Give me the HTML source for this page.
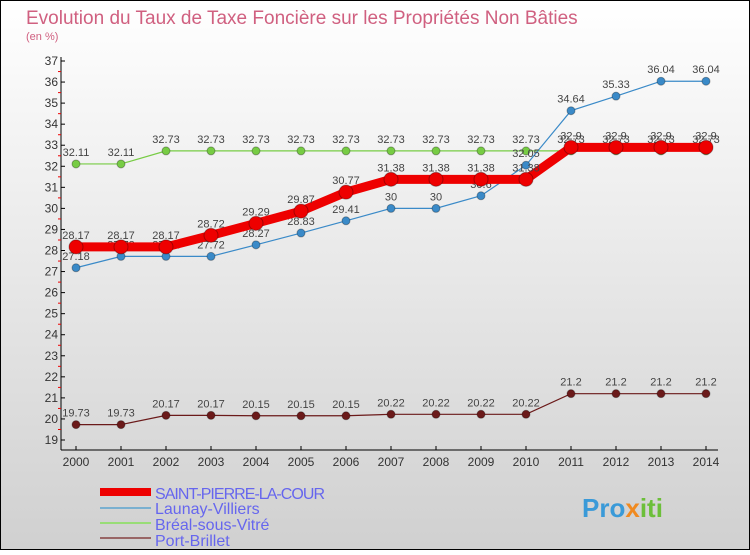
<!DOCTYPE html>
<html><head><meta charset="utf-8"><style>
body{margin:0;width:750px;height:550px;overflow:hidden;font-family:"Liberation Sans",sans-serif}
svg text{font-family:"Liberation Sans",sans-serif}
</style></head><body>
<svg id="c" width="750" height="550" xmlns="http://www.w3.org/2000/svg">
<defs><linearGradient id="bg" x1="0" y1="0" x2="0" y2="1"><stop offset="0" stop-color="#ffffff"/><stop offset="1" stop-color="#d0d0d0"/></linearGradient></defs>
<rect x="0.5" y="0.5" width="749" height="549" fill="url(#bg)" stroke="#000"/>
<text x="26" y="24" font-size="19" fill="#d06080">Evolution du Taux de Taxe Foncière sur les Propriétés Non Bâties</text>
<text x="26" y="40" font-size="11" fill="#d06080">(en %)</text>
<g id="axes"></g><g id="series"></g>
<g>
<line x1="100" y1="492" x2="151" y2="492" stroke="#e00" stroke-width="8"/>
<text x="155" y="499" font-size="16" fill="#6666ee" textLength="170">SAINT-PIERRE-LA-COUR</text>
<line x1="100" y1="508" x2="151" y2="508" stroke="#7ab0d0" stroke-width="2"/>
<text x="155" y="514" font-size="16" fill="#6666ee">Launay-Villiers</text>
<line x1="100" y1="523" x2="151" y2="523" stroke="#99dd77" stroke-width="2"/>
<text x="155" y="530" font-size="16" fill="#6666ee">Bréal-sous-Vitré</text>
<line x1="100" y1="538" x2="151" y2="538" stroke="#996666" stroke-width="2"/>
<text x="155" y="546" font-size="16" fill="#6666ee">Port-Brillet</text>
</g>
<text x="582" y="517" font-size="26" font-weight="bold" fill="#3a9ad8">Pro<tspan fill="#f08a20">x</tspan><tspan fill="#6cbf3a">iti</tspan></text>
</svg>
<script>
const years=[2000,2001,2002,2003,2004,2005,2006,2007,2008,2009,2010,2011,2012,2013,2014];
const yTicks=[19,20,21,22,23,24,25,26,27,28,29,30,31,32,33,34,35,36,37];
const saintPierre=[28.17,28.17,28.17,28.72,29.29,29.87,30.77,31.38,31.38,31.38,31.38,32.9,32.9,32.9,32.9];
const launay=[27.18,27.72,27.72,27.72,28.27,28.83,29.41,30,30,30.6,32.05,34.64,35.33,36.04,36.04];
const breal=[32.11,32.11,32.73,32.73,32.73,32.73,32.73,32.73,32.73,32.73,32.73,32.73,32.73,32.73,32.73];
const portBrillet=[19.73,19.73,20.17,20.17,20.15,20.15,20.15,20.22,20.22,20.22,20.22,21.2,21.2,21.2,21.2];
const NS="http://www.w3.org/2000/svg";
const xs=i=>76+i*45;
const ys=v=>61+(37-v)*(379/18);
function mk(t,a,p){const e=document.createElementNS(NS,t);for(const k in a)e.setAttribute(k,a[k]);p.appendChild(e);return e;}
const ax=document.getElementById('axes');
let l=mk('line',{x1:61,y1:57,x2:61,y2:450,stroke:'#000'},ax);


l=mk('line',{x1:61,y1:450,x2:718,y2:450,stroke:'#000'},ax);


yTicks.forEach(v=>{const y=ys(v);
 mk('line',{x1:61,y1:y,x2:65,y2:y,stroke:'#000'},ax);
 if(v<37)mk('line',{x1:58,y1:y-10.5,x2:61,y2:y-10.5,stroke:'#e00'},ax);
 const t=mk('text',{x:58,y:y+4,'font-size':12,'text-anchor':'end',fill:'#333'},ax);t.textContent=v;
 
 });
years.forEach((yr,i)=>{const x=xs(i);
 mk('line',{x1:x,y1:446,x2:x,y2:450,stroke:'#000'},ax);
 const t=mk('text',{x:x,y:466,'font-size':12,'text-anchor':'middle',fill:'#333'},ax);t.textContent=yr;
 
 });
const sg=document.getElementById('series');
function series(d,name,col,w,r,lab){
 const g=mk('g',{},sg);
 
 
 mk('polyline',{points:d.map((v,i)=>xs(i)+','+ys(v)).join(' '),fill:'none',stroke:col,'stroke-width':w},g);
 d.forEach((v,i)=>{const c=mk('circle',{cx:xs(i),cy:ys(v),r:r,fill:col,stroke:'rgba(0,0,0,0.3)','stroke-width':1},g);
  
  
  const t=mk('text',{x:xs(i),y:ys(v)-8,'font-size':11,'text-anchor':'middle',fill:'#444'},g);t.textContent=lab(v);});
}
const fmt=v=>String(v);
series(portBrillet,'series-port-brillet','#6b1a1a',1.2,4,fmt);
series(breal,'series-breal','#77cc44',1.2,4,fmt);
series(launay,'series-launay','#3a8ac8',1.2,4,fmt);
series(saintPierre,'series-saint-pierre','#ee0000',9,7,fmt);
</script>
</body></html>
